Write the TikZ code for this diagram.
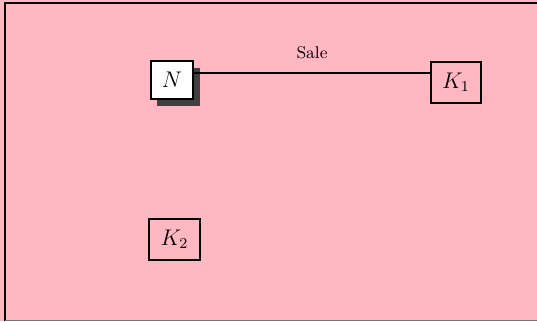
\documentclass[tikz,border=0pt]{standalone}
\usetikzlibrary{shadows}
\definecolor{bgpink}{RGB}{255,183,194}
\begin{document}
\begin{tikzpicture}[x=0.018622cm, y=-0.018622cm,
  box/.style={draw, line width=1pt, inner xsep=6pt, inner ysep=6pt, font=\large},
  shadowed/.style={box, fill=white, drop shadow={shadow xshift=3.5pt, shadow yshift=-3.5pt, fill=black!75, opacity=1}}]
\useasboundingbox (0,0) rectangle (537,321);
\fill[bgpink] (0,0) rectangle (537,321);
\draw[line width=1.2pt] (5,321) -- (5,3) -- (537,3);
\draw[black!55, line width=0.8pt] (5,320.5) -- (537,320.5);
\node[shadowed] (N) at (172,80) {$N$};
\node[box] (K1) at (456,82.5) {$K_1$};
\node[box] (K2) at (174.5,239.5) {$K_2$};
\coordinate (lineY) at (0,73);
\draw[line width=0.8pt] (N.east |- lineY) -- node[above=4pt, font=\small] (sale) {Sale} (K1.west |- lineY);
\end{tikzpicture}
\end{document}
